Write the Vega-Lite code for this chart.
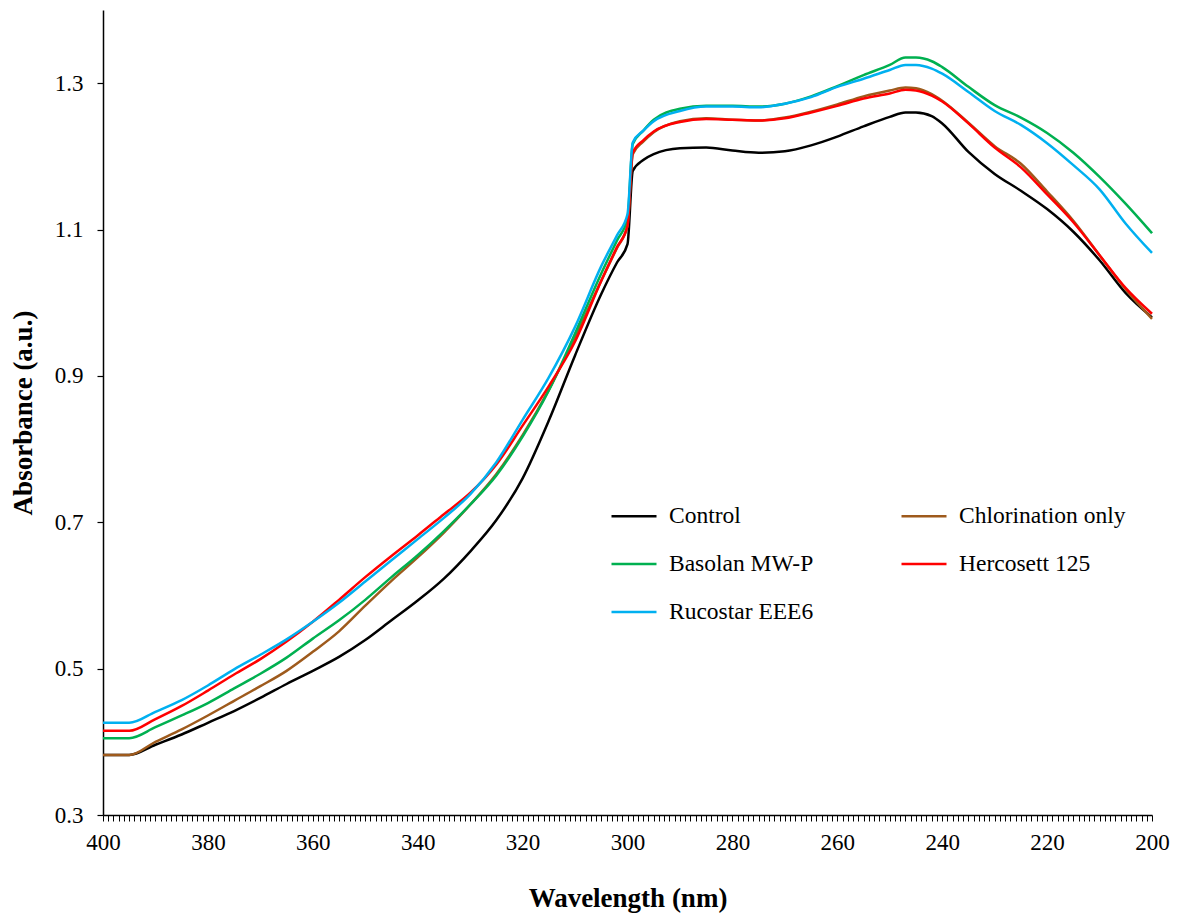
{
  "$schema": "https://vega.github.io/schema/vega-lite/v6.json",
  "autosize": {"type": "none"},
  "width": 1049,
  "height": 805,
  "padding": {"left": 103, "top": 10, "right": 26, "bottom": 101},
  "background": "white",
  "config": {
    "view": {"stroke": null},
    "font": "Liberation Serif"
  },
  "data": {
    "values": [
      {"wl": 400, "Control": 0.382, "Chlorination only": 0.382, "Basolan MW-P": 0.405, "Hercosett 125": 0.415, "Rucostar EEE6": 0.426},
      {"wl": 395, "Control": 0.382, "Chlorination only": 0.382, "Basolan MW-P": 0.405, "Hercosett 125": 0.415, "Rucostar EEE6": 0.426},
      {"wl": 390, "Control": 0.396, "Chlorination only": 0.400, "Basolan MW-P": 0.420, "Hercosett 125": 0.431, "Rucostar EEE6": 0.441},
      {"wl": 385, "Control": 0.410, "Chlorination only": 0.417, "Basolan MW-P": 0.436, "Hercosett 125": 0.449, "Rucostar EEE6": 0.457},
      {"wl": 380, "Control": 0.426, "Chlorination only": 0.436, "Basolan MW-P": 0.453, "Hercosett 125": 0.470, "Rucostar EEE6": 0.477},
      {"wl": 375, "Control": 0.442, "Chlorination only": 0.456, "Basolan MW-P": 0.473, "Hercosett 125": 0.492, "Rucostar EEE6": 0.499},
      {"wl": 370, "Control": 0.460, "Chlorination only": 0.476, "Basolan MW-P": 0.493, "Hercosett 125": 0.513, "Rucostar EEE6": 0.519},
      {"wl": 365, "Control": 0.479, "Chlorination only": 0.497, "Basolan MW-P": 0.515, "Hercosett 125": 0.537, "Rucostar EEE6": 0.540},
      {"wl": 360, "Control": 0.497, "Chlorination only": 0.523, "Basolan MW-P": 0.541, "Hercosett 125": 0.564, "Rucostar EEE6": 0.564},
      {"wl": 355, "Control": 0.516, "Chlorination only": 0.551, "Basolan MW-P": 0.566, "Hercosett 125": 0.594, "Rucostar EEE6": 0.590},
      {"wl": 350, "Control": 0.539, "Chlorination only": 0.586, "Basolan MW-P": 0.594, "Hercosett 125": 0.625, "Rucostar EEE6": 0.619},
      {"wl": 345, "Control": 0.566, "Chlorination only": 0.620, "Basolan MW-P": 0.625, "Hercosett 125": 0.654, "Rucostar EEE6": 0.648},
      {"wl": 340, "Control": 0.593, "Chlorination only": 0.652, "Basolan MW-P": 0.655, "Hercosett 125": 0.682, "Rucostar EEE6": 0.677},
      {"wl": 335, "Control": 0.623, "Chlorination only": 0.686, "Basolan MW-P": 0.688, "Hercosett 125": 0.711, "Rucostar EEE6": 0.706},
      {"wl": 330, "Control": 0.660, "Chlorination only": 0.724, "Basolan MW-P": 0.724, "Hercosett 125": 0.740, "Rucostar EEE6": 0.738},
      {"wl": 325, "Control": 0.703, "Chlorination only": 0.766, "Basolan MW-P": 0.764, "Hercosett 125": 0.779, "Rucostar EEE6": 0.782},
      {"wl": 320, "Control": 0.760, "Chlorination only": 0.819, "Basolan MW-P": 0.817, "Hercosett 125": 0.832, "Rucostar EEE6": 0.840},
      {"wl": 315, "Control": 0.839, "Chlorination only": 0.881, "Basolan MW-P": 0.880, "Hercosett 125": 0.886, "Rucostar EEE6": 0.898},
      {"wl": 310, "Control": 0.928, "Chlorination only": 0.953, "Basolan MW-P": 0.958, "Hercosett 125": 0.947, "Rucostar EEE6": 0.967},
      {"wl": 305, "Control": 1.012, "Chlorination only": 1.030, "Basolan MW-P": 1.040, "Hercosett 125": 1.030, "Rucostar EEE6": 1.050},
      {"wl": 302, "Control": 1.055, "Chlorination only": 1.075, "Basolan MW-P": 1.085, "Hercosett 125": 1.076, "Rucostar EEE6": 1.092},
      {"wl": 300, "Control": 1.080, "Chlorination only": 1.105, "Basolan MW-P": 1.115, "Hercosett 125": 1.105, "Rucostar EEE6": 1.121},
      {"wl": 299, "Control": 1.180, "Chlorination only": 1.203, "Basolan MW-P": 1.217, "Hercosett 125": 1.205, "Rucostar EEE6": 1.219},
      {"wl": 297, "Control": 1.195, "Chlorination only": 1.220, "Basolan MW-P": 1.235, "Hercosett 125": 1.222, "Rucostar EEE6": 1.235},
      {"wl": 295, "Control": 1.203, "Chlorination only": 1.233, "Basolan MW-P": 1.250, "Hercosett 125": 1.234, "Rucostar EEE6": 1.248},
      {"wl": 290, "Control": 1.211, "Chlorination only": 1.248, "Basolan MW-P": 1.265, "Hercosett 125": 1.247, "Rucostar EEE6": 1.262},
      {"wl": 285, "Control": 1.212, "Chlorination only": 1.252, "Basolan MW-P": 1.269, "Hercosett 125": 1.251, "Rucostar EEE6": 1.268},
      {"wl": 280, "Control": 1.208, "Chlorination only": 1.250, "Basolan MW-P": 1.269, "Hercosett 125": 1.250, "Rucostar EEE6": 1.268},
      {"wl": 275, "Control": 1.205, "Chlorination only": 1.249, "Basolan MW-P": 1.268, "Hercosett 125": 1.249, "Rucostar EEE6": 1.267},
      {"wl": 270, "Control": 1.207, "Chlorination only": 1.253, "Basolan MW-P": 1.272, "Hercosett 125": 1.252, "Rucostar EEE6": 1.272},
      {"wl": 265, "Control": 1.215, "Chlorination only": 1.261, "Basolan MW-P": 1.282, "Hercosett 125": 1.260, "Rucostar EEE6": 1.281},
      {"wl": 260, "Control": 1.227, "Chlorination only": 1.271, "Basolan MW-P": 1.296, "Hercosett 125": 1.269, "Rucostar EEE6": 1.295},
      {"wl": 255, "Control": 1.241, "Chlorination only": 1.282, "Basolan MW-P": 1.311, "Hercosett 125": 1.279, "Rucostar EEE6": 1.306},
      {"wl": 250, "Control": 1.254, "Chlorination only": 1.290, "Basolan MW-P": 1.325, "Hercosett 125": 1.286, "Rucostar EEE6": 1.318},
      {"wl": 247, "Control": 1.260, "Chlorination only": 1.294, "Basolan MW-P": 1.335, "Hercosett 125": 1.291, "Rucostar EEE6": 1.325},
      {"wl": 245, "Control": 1.260, "Chlorination only": 1.293, "Basolan MW-P": 1.335, "Hercosett 125": 1.290, "Rucostar EEE6": 1.325},
      {"wl": 242, "Control": 1.255, "Chlorination only": 1.285, "Basolan MW-P": 1.330, "Hercosett 125": 1.283, "Rucostar EEE6": 1.320},
      {"wl": 240, "Control": 1.245, "Chlorination only": 1.276, "Basolan MW-P": 1.322, "Hercosett 125": 1.275, "Rucostar EEE6": 1.313},
      {"wl": 235, "Control": 1.206, "Chlorination only": 1.246, "Basolan MW-P": 1.295, "Hercosett 125": 1.245, "Rucostar EEE6": 1.288},
      {"wl": 230, "Control": 1.176, "Chlorination only": 1.214, "Basolan MW-P": 1.270, "Hercosett 125": 1.212, "Rucostar EEE6": 1.262},
      {"wl": 225, "Control": 1.153, "Chlorination only": 1.190, "Basolan MW-P": 1.253, "Hercosett 125": 1.185, "Rucostar EEE6": 1.243},
      {"wl": 220, "Control": 1.128, "Chlorination only": 1.152, "Basolan MW-P": 1.232, "Hercosett 125": 1.148, "Rucostar EEE6": 1.218},
      {"wl": 215, "Control": 1.097, "Chlorination only": 1.112, "Basolan MW-P": 1.205, "Hercosett 125": 1.110, "Rucostar EEE6": 1.188},
      {"wl": 210, "Control": 1.058, "Chlorination only": 1.065, "Basolan MW-P": 1.172, "Hercosett 125": 1.065, "Rucostar EEE6": 1.155},
      {"wl": 205, "Control": 1.013, "Chlorination only": 1.018, "Basolan MW-P": 1.135, "Hercosett 125": 1.020, "Rucostar EEE6": 1.108},
      {"wl": 200, "Control": 0.980, "Chlorination only": 0.978, "Basolan MW-P": 1.095, "Hercosett 125": 0.985, "Rucostar EEE6": 1.068}
    ]
  },
  "transform": [
    {"fold": ["Control", "Chlorination only", "Basolan MW-P", "Hercosett 125", "Rucostar EEE6"], "as": ["series", "a"]}
  ],
  "mark": {"type": "line", "strokeWidth": 2.5, "interpolate": "monotone"},
  "encoding": {
    "x": {
      "field": "wl",
      "type": "quantitative",
      "scale": {"domain": [200, 400], "reverse": true, "nice": false, "zero": false},
      "axis": {
        "title": "Wavelength (nm)",
        "titleFont": "Liberation Serif",
        "titleFontSize": 27,
        "titleFontWeight": "bold",
        "titleColor": "black",
        "titlePadding": 31,
        "ticks": true,
        "zindex": 1,
        "tickCount": 200,
        "labelExpr": "datum.value % 20 == 0 ? datum.label : ''",
        "labelOverlap": false,
        "labelFlush": false,
        "labelFont": "Liberation Serif",
        "labelFontSize": 23,
        "labelColor": "black",
        "labelPadding": 10,
        "tickSize": 6,
        "tickColor": "black",
        "tickWidth": 1,
        "tickOpacity": 1,
        "domainColor": "black",
        "domainWidth": 1.5,
        "grid": true,
        "gridOpacity": 0
      }
    },
    "y": {
      "field": "a",
      "type": "quantitative",
      "scale": {"domain": [0.3, 1.4], "nice": false, "zero": false},
      "axis": {
        "title": "Absorbance (a.u.)",
        "titleFont": "Liberation Serif",
        "titleFontSize": 27,
        "titleFontWeight": "bold",
        "titleColor": "black",
        "titlePadding": 17,
        "values": [0.3, 0.5, 0.7, 0.9, 1.1, 1.3],
        "format": ".1f",
        "labelFont": "Liberation Serif",
        "labelFontSize": 23,
        "labelColor": "black",
        "labelPadding": 14,
        "tickSize": 6,
        "tickColor": "black",
        "tickWidth": 1.2,
        "domainColor": "black",
        "domainWidth": 1.5,
        "grid": false
      }
    },
    "color": {
      "field": "series",
      "type": "nominal",
      "scale": {
        "domain": ["Control", "Chlorination only", "Basolan MW-P", "Hercosett 125", "Rucostar EEE6"],
        "range": ["#000000", "#9E5A1C", "#00B050", "#FF0000", "#00B0F0"]
      },
      "legend": {
        "title": null,
        "orient": "none",
        "legendX": 507,
        "legendY": 482,
        "direction": "horizontal",
        "columns": 2,
        "columnPadding": 82,
        "rowPadding": 12,
        "padding": 0,
        "symbolType": "stroke",
        "symbolSize": 2025,
        "symbolStrokeWidth": 2.5,
        "labelFont": "Liberation Serif",
        "labelFontSize": 23.5,
        "labelColor": "black",
        "labelOffset": 11,
        "labelLimit": 400
      }
    }
  }
}
